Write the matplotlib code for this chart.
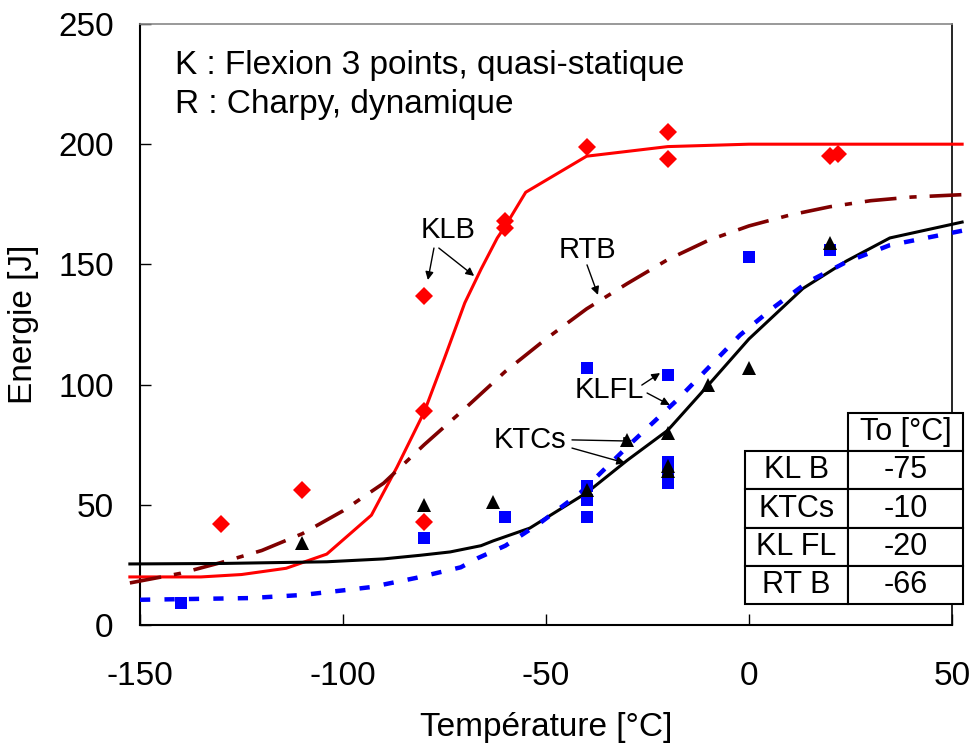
import numpy as np
import matplotlib
matplotlib.use("Agg")
import matplotlib.pyplot as plt

plt.rcParams['font.family'] = ['Liberation Sans', 'DejaVu Sans']
plt.rcParams['axes.unicode_minus'] = False

# measured points
klb_x = [-130, -110, -80, -80, -80, -60, -60, -40, -20, -20, 20, 22]
klb_y = [42, 56, 137, 89, 43, 168, 165, 199, 205, 194, 195, 196]

klfl_x = [-140, -80, -60, -40, -40, -40, -40, -20, -20, -20, -20, 0, 20]
klfl_y = [9, 36, 45, 107, 58, 52, 45, 104, 68, 63, 59, 153, 156]

ktcs_x = [-110, -80, -63, -40, -30, -20, -20, -20, -10, 0, 20]
ktcs_y = [34, 50, 51, 56, 77, 80, 66, 64, 100, 107, 159]

# fitted curves
klb_fit_x = [-152.5, -135, -125, -114, -104, -93, -86.7, -80, -75, -70, -66, -62, -60, -55, -40, -20, 0, 52.5]
klb_fit_y = [20, 20, 21, 23.6, 29.5, 45.7, 65.7, 88.6, 111, 134, 148, 161, 166, 180, 195, 199, 200, 200]

rtb_fit_x = [-152.5, -140, -130, -120, -110, -100, -90, -80, -70, -60, -50, -40, -30, -20, -10, 0, 10, 20, 30, 40, 52.5]
rtb_fit_y = [17.5, 21.5, 26, 31, 38, 47.5, 59, 75, 90, 105.5, 119, 131.5, 142, 152, 160, 166, 170.5, 174, 176.5, 178, 179]

ktcs_fit_x = [-152.5, -130, -104, -90, -81, -73.6, -66, -63, -54, -40, -30, -20, -9.6, 0, 13.3, 24, 34.7, 52.5]
ktcs_fit_y = [25.4, 25.6, 26.3, 27.5, 29, 30.4, 33, 35, 40.3, 55, 68.5, 81, 100.6, 119, 140, 151.4, 161, 167.6]

klfl_fit_x = [-150, -123, -110, -99, -93, -82, -71, -66.7, -60, -51.5, -41.6, -29, -17.7, -2.2, 5.9, 14.5, 24, 34.7, 52.5]
klfl_fit_y = [10.5, 11.2, 12.5, 14.6, 15.8, 19.6, 24, 27.9, 33, 42.4, 54.9, 75.7, 93.6, 120.6, 131.9, 142.7, 151, 158, 164]

table_rows = ['KL B', 'KTCs', 'KL FL', 'RT B']
table_to = ['-75', '-10', '-20', '-66']

xticks = [-150, -100, -50, 0, 50]
yticks = [0, 50, 100, 150, 200, 250]

fig = plt.figure(figsize=(9.73, 7.47), dpi=100)
ax = fig.add_axes([0.1439, 0.1633, 0.8345, 0.8046])

ax.plot(klb_fit_x, klb_fit_y, color='#ff0000', lw=2.2, clip_on=False, zorder=3)
ax.plot(rtb_fit_x, rtb_fit_y, color='#800000', lw=2.6, linestyle=(0, (8.8, 3.6, 2, 3.6)),
        clip_on=False, zorder=3)
ax.plot(ktcs_fit_x, ktcs_fit_y, color='black', lw=2.2, clip_on=False, zorder=3)
ax.plot(klfl_fit_x, klfl_fit_y, color='#0000ff', lw=3.2, linestyle=(0, (2.3, 3.2)),
        clip_on=False, zorder=3)

ax.plot(klb_x, klb_y, 'D', color='#ff0000', ms=9, mew=0, zorder=4)
ax.plot(klfl_x, klfl_y, 's', color='#0000ff', ms=9, mew=0, zorder=4)
ax.plot(ktcs_x, ktcs_y, '^', color='black', ms=10, mew=0, zorder=4)

ax.set_xlim(-150, 50)
ax.set_ylim(0, 250)
ax.set_xticks(xticks)
ax.set_yticks(yticks)
ax.tick_params(direction='in', length=8, width=1, labelsize=24)
ax.tick_params(axis='y', pad=19)
ax.tick_params(axis='x', pad=26)
for s in ['left', 'bottom']:
    ax.spines[s].set_linewidth(1.5)
ax.spines['right'].set_linewidth(1.2)
ax.spines['top'].set_color('#888888')
ax.spines['top'].set_linewidth(1.2)

ax.set_xlabel('Température [°C]', fontsize=24)
ax.set_ylabel('Energie [J]', fontsize=24)
ax.xaxis.set_label_coords(0.5, -0.145)
ax.yaxis.set_label_coords(-0.125, 0.5)

ax.text(-141.4, 229.2, 'K : Flexion 3 points, quasi-statique', fontsize=24, va='baseline')
ax.text(-141.4, 213, 'R : Charpy, dynamique', fontsize=24, va='baseline')

arrow = dict(arrowstyle='-|>', color='black', lw=1, mutation_scale=12, shrinkA=0, shrinkB=0)
ax.text(-74.1, 164.3, 'KLB', fontsize=21, ha='center', va='center')
ax.annotate('', xy=(-79.1, 143.5), xytext=(-77.6, 156.8), arrowprops=arrow)
ax.annotate('', xy=(-67.7, 145.2), xytext=(-76.4, 156.8), arrowprops=arrow)

ax.text(-39.9, 156, 'RTB', fontsize=21, ha='center', va='center')
ax.annotate('', xy=(-37.2, 137.3), xytext=(-39.9, 149.8), arrowprops=arrow)

ax.text(-34.5, 97.8, 'KLFL', fontsize=21, ha='center', va='center')
ax.annotate('', xy=(-21.9, 104.8), xytext=(-26.4, 99.8), arrowprops=arrow)
ax.annotate('', xy=(-19.5, 91.5), xytext=(-25.1, 96.5), arrowprops=arrow)

ax.text(-53.9, 77, 'KTCs', fontsize=21, ha='center', va='center')
ax.annotate('', xy=(-28.8, 76.5), xytext=(-43.6, 77), arrowprops=arrow)
ax.annotate('', xy=(-30.5, 67.4), xytext=(-43.6, 73.6), arrowprops=arrow)

cells = [[r, v] for r, v in zip(table_rows, table_to)]
tab = ax.table(cellText=cells, colLabels=['', 'To [°C]'], cellLoc='center',
               colWidths=[103, 115], bbox=[0.745, 0.0349, 0.2685, 0.3178])
tab.auto_set_font_size(False)
tab.set_fontsize(22)
tab.set_zorder(5)
for (r, c), cell in tab.get_celld().items():
    cell.set_linewidth(1.5)
    if r == 0 and c == 0:
        cell.set_linewidth(0)
        cell.set_facecolor('none')

fig.savefig('out.png', dpi=100)
